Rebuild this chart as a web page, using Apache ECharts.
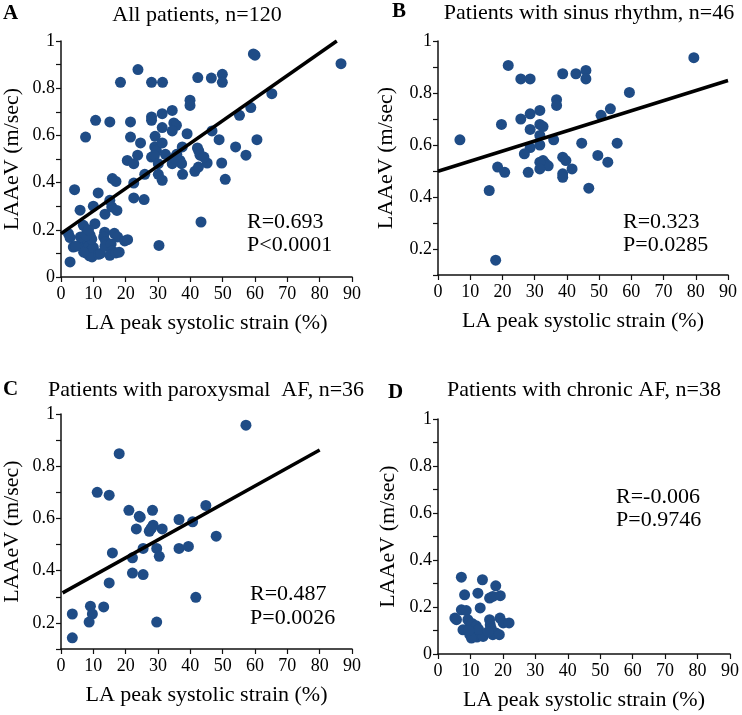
<!DOCTYPE html>
<html>
<head>
<meta charset="utf-8">
<script src="https://cdn.jsdelivr.net/npm/echarts@6/dist/echarts.min.js"></script>
<style>html,body{margin:0;padding:0;background:#fff}#c{width:742px;height:715px}</style>
</head>
<body>
<div id="c"></div>
<script>
// ---- Data ----
const xTicks = [0, 10, 20, 30, 40, 50, 60, 70, 80, 90];
const yLabelTicks = [0, 0.2, 0.4, 0.6, 0.8, 1];

const panelLetters = ['A', 'B', 'C', 'D'];
const panelTitles = ['All patients, n=120', 'Patients with sinus rhythm, n=46', 'Patients with paroxysmal  AF, n=36', 'Patients with chronic AF, n=38'];
const statR = ['R=0.693', 'R=0.323', 'R=0.487', 'R=-0.006'];
const statP = ['P<0.0001', 'P=0.0285', 'P=0.0026', 'P=0.9746'];
const xName = 'LA peak systolic strain (%)';
const yName = 'LAAeV (m/sec)';

const allPatients = [
  [86.6,0.904],[59.5,0.945],[60.0,0.94],[23.8,0.879],[18.4,0.825],[28.0,0.825],[31.4,0.825],[42.3,0.845],[46.5,0.843],[49.9,0.859],
  [49.9,0.825],[65.2,0.777],[58.7,0.718],[39.9,0.749],[39.9,0.727],[55.2,0.685],[7.6,0.593],[10.7,0.664],[15.1,0.657],[21.5,0.657],
  [21.5,0.593],[28.0,0.678],[28.0,0.664],[31.3,0.692],[34.4,0.706],[31.3,0.633],[34.9,0.653],[35.7,0.643],[34.4,0.619],[39.0,0.607],
  [46.7,0.619],[48.9,0.582],[60.6,0.582],[54.0,0.551],[57.2,0.516],[49.7,0.483],[50.8,0.414],[45.2,0.483],[42.2,0.547],[42.6,0.534],
  [43.0,0.516],[44.2,0.508],[41.4,0.448],[42.5,0.466],[37.5,0.551],[37.6,0.435],[36.8,0.494],[37.3,0.480],[34.4,0.480],[34.9,0.504],
  [35.8,0.52],[29.1,0.596],[29.0,0.551],[29.5,0.537],[28.0,0.508],[28.9,0.515],[31.3,0.568],[32.3,0.520],[30.1,0.480],[30.1,0.435],
  [31.3,0.410],[30.3,0.134],[43.3,0.233],[24.6,0.568],[23.7,0.516],[20.5,0.494],[22.5,0.480],[25.9,0.435],[22.5,0.398],[22.5,0.335],
  [25.7,0.328],[15.9,0.417],[17.0,0.405],[11.5,0.356],[4.2,0.370],
  [5.9,0.283],[10.0,0.300],[13.6,0.266],[15.7,0.297],[15.1,0.325],[17.3,0.282],[10.5,0.226],[6.9,0.219],[2.3,0.184],[2.8,0.167],
  [8.0,0.191],[9.0,0.177],[3.8,0.127],[2.8,0.064],[6.6,0.155],[7.2,0.14],[8.3,0.15],[7.5,0.12],[8.6,0.13],[9.2,0.11],
  [8.0,0.10],[8.8,0.09],[9.6,0.085],[7.0,0.105],[10.0,0.125],[9.5,0.16],[11.6,0.096],[12.2,0.1],[13.5,0.19],[13.2,0.17],
  [13.8,0.15],[13.6,0.13],[16.5,0.185],[17.5,0.17],[19.7,0.153],[20.6,0.158],[15.5,0.14],[15.8,0.11],[15.1,0.092],[17.0,0.102],
  [18.0,0.105],[6.0,0.17],[4.5,0.13],[7.8,0.175],[8.5,0.2]
];
const sinusRhythm = [
  [6.8,0.620],[21.8,0.906],[25.7,0.854],[28.6,0.854],[38.7,0.874],[42.8,0.874],[45.9,0.887],[45.9,0.854],[79.4,0.936],[59.4,0.802],
  [53.5,0.739],[50.6,0.714],[36.8,0.774],[36.8,0.752],[31.6,0.733],[28.6,0.720],[25.7,0.70],[19.7,0.679],[31.6,0.679],[32.6,0.671],
  [28.6,0.660],[31.6,0.637],[35.9,0.62],[31.6,0.60],[28.6,0.59],[26.8,0.566],[44.6,0.607],[55.6,0.607],[49.6,0.56],[52.7,0.534],
  [32.6,0.54],[33.2,0.53],[34.2,0.52],[31.6,0.534],[31.6,0.508],[38.7,0.553],[39.7,0.54],[41.6,0.508],[38.7,0.489],[38.7,0.476],
  [28.0,0.495],[18.5,0.515],[20.7,0.495],[15.9,0.425],[46.8,0.434],[17.9,0.157]
];
const paroxysmalAF = [
  [57.2,0.957],[18.0,0.848],[11.2,0.700],[14.9,0.689],[21.0,0.631],[28.3,0.631],[24.2,0.608],[44.8,0.650],[36.5,0.596],[40.7,0.587],
  [23.3,0.560],[31.3,0.560],[28.5,0.574],[28.0,0.564],[27.3,0.551],[48.0,0.532],[25.4,0.485],[29.6,0.485],[30.4,0.455],[36.5,0.485],
  [39.4,0.493],[15.9,0.468],[22.1,0.449],[22.1,0.391],[25.4,0.385],[14.9,0.353],[41.7,0.298],[3.5,0.234],[9.1,0.264],[9.7,0.234],
  [13.2,0.261],[8.7,0.203],[29.6,0.203],[3.5,0.143],[27.8,0.56],[24.5,0.605]
];
const chronicAF = [
  [7.2,0.327],[13.7,0.316],[17.8,0.290],[8.2,0.252],[12.3,0.259],[15.9,0.238],[16.9,0.245],[19.2,0.248],[13.0,0.196],[7.2,0.188],
  [8.7,0.185],[5.2,0.153],[5.7,0.146],[9.2,0.146],[9.8,0.132],[10.3,0.117],[7.7,0.103],[11.0,0.10],[11.5,0.085],[12.0,0.072],
  [11.2,0.078],[10.5,0.13],[11.8,0.12],[15.9,0.146],[16.1,0.125],[16.4,0.109],[19.1,0.153],[20.1,0.132],[21.9,0.132],[13.9,0.075],
  [16.9,0.082],[17.9,0.089],[18.9,0.082],[9.8,0.082],[10.3,0.068],[12.5,0.105],[9.5,0.1],[15.5,0.095]
];
// regression line endpoints
const fitA = [[0,0.184],[85.3,1.0]];
const fitB = [[0,0.499],[90,0.848]];
const fitC = [[0.5,0.315],[80,0.862]];

const yMins = [0, 0.1, 0.1, 0];

// ---- Chart ----
const FONT = "'Liberation Serif','Times New Roman',serif";
const grids = [
  {left: 61, top: 41, width: 291, height: 236},
  {left: 438, top: 41, width: 290, height: 234},
  {left: 61, top: 414, width: 291, height: 235},
  {left: 438, top: 419, width: 292, height: 235}
];
const yGaps = [38, 41, 38, 39];
const scatterData = [allPatients, sinusRhythm, paroxysmalAF, chronicAF];
const fits = [fitA, fitB, fitC, null];

function yFmt(v) {
  const k = Math.round(v * 10);
  if (k % 2 !== 0) return '';
  const val = k / 10;
  return yLabelTicks.indexOf(val) >= 0 ? String(val) : '';
}

const xAxes = [], yAxes = [], series = [];
for (let i = 0; i < 4; i++) {
  xAxes.push({
    gridIndex: i, type: 'value', min: xTicks[0], max: xTicks[xTicks.length - 1], interval: xTicks[1] - xTicks[0],
    axisLine: {lineStyle: {color: '#111', width: 1.5}},
    axisTick: {length: 5, lineStyle: {color: '#111', width: 1.2}},
    axisLabel: {color: '#000', fontSize: 18, fontFamily: FONT, margin: 8},
    splitLine: {show: false},
    name: xName, nameLocation: 'middle', nameGap: 35,
    nameTextStyle: {color: '#000', fontSize: 22, fontFamily: FONT}
  });
  yAxes.push({
    gridIndex: i, type: 'value', min: yMins[i], max: 1, interval: 0.1,
    axisLine: {show: true, lineStyle: {color: '#111', width: 1.5}},
    axisTick: {show: true, length: 5, lineStyle: {color: '#111', width: 1.2}},
    axisLabel: {color: '#000', fontSize: 18, fontFamily: FONT, margin: 6, formatter: yFmt, showMinLabel: true},
    splitLine: {show: false},
    name: yName, nameLocation: 'middle', nameGap: yGaps[i],
    nameTextStyle: {color: '#000', fontSize: 22, fontFamily: FONT}
  });
  series.push({
    type: 'scatter', xAxisIndex: i, yAxisIndex: i, data: scatterData[i],
    symbol: 'circle', symbolSize: 11,
    itemStyle: {color: '#1f4c86', opacity: 1}, silent: true, z: 2
  });
  if (fits[i]) {
    series.push({
      type: 'line', xAxisIndex: i, yAxisIndex: i, data: fits[i],
      showSymbol: false, symbol: 'none',
      lineStyle: {color: '#000', width: 3.5}, silent: true, z: 3
    });
  }
}

const letterPos = [[3, 14], [392, 12], [3, 390], [388, 393]];
const titlePos = [[197, 15], [589, 13], [206, 390], [584, 390]];
const statPos = [[247, 222, 245], [623, 222, 245], [250, 594, 618], [616, 497, 520]];
const graphic = [];
for (let i = 0; i < 4; i++) {
  graphic.push({type: 'text', x: letterPos[i][0], y: letterPos[i][1],
    style: {text: panelLetters[i], font: "bold 21px " + FONT, fill: '#000', textAlign: 'left', textVerticalAlign: 'middle'}});
  graphic.push({type: 'text', x: titlePos[i][0], y: titlePos[i][1],
    style: {text: panelTitles[i], font: "22px " + FONT, fill: '#000', textAlign: 'center', textVerticalAlign: 'middle'}});
  graphic.push({type: 'text', x: statPos[i][0], y: statPos[i][1],
    style: {text: statR[i], font: "22px " + FONT, fill: '#000', textAlign: 'left', textVerticalAlign: 'middle'}});
  graphic.push({type: 'text', x: statPos[i][0], y: statPos[i][2],
    style: {text: statP[i], font: "22px " + FONT, fill: '#000', textAlign: 'left', textVerticalAlign: 'middle'}});
}

const chart = echarts.init(document.getElementById('c'), null, {renderer: 'canvas'});
chart.setOption({
  animation: false,
  backgroundColor: '#fff',
  grid: grids,
  xAxis: xAxes,
  yAxis: yAxes,
  series: series,
  graphic: graphic
});
</script>
</body>
</html>
